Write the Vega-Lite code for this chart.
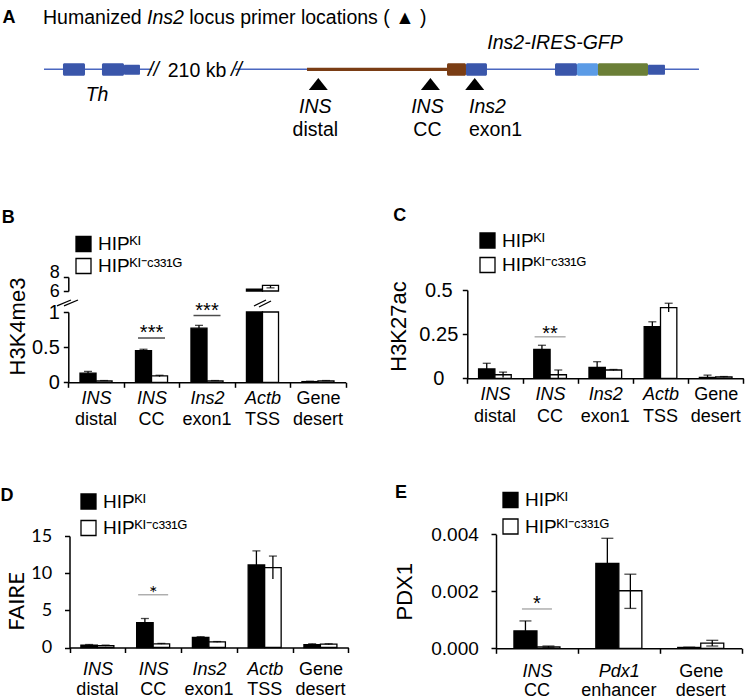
{
"$schema": "https://vega.github.io/schema/vega-lite/v6.json",
"width": 747, "height": 700, "autosize": "none", "padding": 0, "background": "white",
"config": {
  "view": {"stroke": null},
  "font": "Liberation Sans",
  "axis": {"grid": false, "labelFont": "Liberation Sans", "titleFont": "Liberation Sans", "labelColor": "black", "titleColor": "black", "domainColor": "black", "tickColor": "black", "domainWidth": 1.5, "tickWidth": 1.5, "tickSize": 5, "labelFontSize": 18, "titleFontSize": 22, "titleFontWeight": "normal", "labelOverlap": false},
  "text": {"font": "Liberation Sans", "color": "black"}
},
"datasets": {
  "locus": [
    {"part": "backbone", "start": 58.9, "end": 203.5},
    {"part": "backbone", "start": 314.6, "end": 935.7},
    {"part": "human INS region", "start": 411, "end": 598.4},
    {"part": "exon", "start": 84.3, "end": 113.8},
    {"part": "exon", "start": 136.5, "end": 166},
    {"part": "UTR", "start": 166, "end": 187.4},
    {"part": "human INS", "start": 598.4, "end": 623.8},
    {"part": "exon", "start": 623.8, "end": 651.9},
    {"part": "exon", "start": 743, "end": 772.4},
    {"part": "IRES", "start": 772.4, "end": 800.5},
    {"part": "GFP", "start": 800.5, "end": 867.5},
    {"part": "UTR", "start": 867.5, "end": 890.2}
  ],
  "primers": [
    {"pos": 426.1, "name1": "INS", "name2": "distal"},
    {"pos": 576.2, "name1": "INS", "name2": "CC"},
    {"pos": 635.5, "name1": "Ins2", "name2": "exon1"}
  ],
  "B": [
    {"cat": "INS distal", "geno": "KI", "value": 0.13, "lo": 0.13, "hi": 0.155},
    {"cat": "INS distal", "geno": "KI-C331G", "value": 0.02, "lo": 0.02, "hi": 0.025},
    {"cat": "INS CC", "geno": "KI", "value": 0.45, "lo": 0.45, "hi": 0.47},
    {"cat": "INS CC", "geno": "KI-C331G", "value": 0.09, "lo": 0.08, "hi": 0.1},
    {"cat": "Ins2 exon1", "geno": "KI", "value": 0.77, "lo": 0.77, "hi": 0.81},
    {"cat": "Ins2 exon1", "geno": "KI-C331G", "value": 0.02, "lo": 0.02, "hi": 0.025},
    {"cat": "Actb TSS", "geno": "KI", "value": 6.25, "lo": 6.25, "hi": 6.3},
    {"cat": "Actb TSS", "geno": "KI-C331G", "value": 6.8, "lo": 6.45, "hi": 6.8},
    {"cat": "Gene desert", "geno": "KI", "value": 0.01, "lo": 0.01, "hi": 0.015},
    {"cat": "Gene desert", "geno": "KI-C331G", "value": 0.02, "lo": 0.02, "hi": 0.025}
  ],
  "sigB": [
    {"cat": "INS CC", "y": 0.63, "label": "***"},
    {"cat": "Ins2 exon1", "y": 0.95, "label": "***"}
  ],
  "C": [
    {"cat": "INS distal", "geno": "KI", "value": 0.053, "lo": 0.053, "hi": 0.085},
    {"cat": "INS distal", "geno": "KI-C331G", "value": 0.02, "lo": 0.005, "hi": 0.035},
    {"cat": "INS CC", "geno": "KI", "value": 0.164, "lo": 0.164, "hi": 0.187},
    {"cat": "INS CC", "geno": "KI-C331G", "value": 0.02, "lo": 0.0, "hi": 0.047},
    {"cat": "Ins2 exon1", "geno": "KI", "value": 0.062, "lo": 0.062, "hi": 0.094},
    {"cat": "Ins2 exon1", "geno": "KI-C331G", "value": 0.047, "lo": 0.044, "hi": 0.05},
    {"cat": "Actb TSS", "geno": "KI", "value": 0.292, "lo": 0.292, "hi": 0.32},
    {"cat": "Actb TSS", "geno": "KI-C331G", "value": 0.4, "lo": 0.375, "hi": 0.425},
    {"cat": "Gene desert", "geno": "KI", "value": 0.005, "lo": 0.005, "hi": 0.018},
    {"cat": "Gene desert", "geno": "KI-C331G", "value": 0.008, "lo": 0.006, "hi": 0.01}
  ],
  "sigC": [{"cat": "INS CC", "y": 0.235, "label": "**"}],
  "D": [
    {"cat": "INS distal", "geno": "KI", "value": 0.3, "lo": 0.3, "hi": 0.4},
    {"cat": "INS distal", "geno": "KI-C331G", "value": 0.25, "lo": 0.18, "hi": 0.32},
    {"cat": "INS CC", "geno": "KI", "value": 3.35, "lo": 3.35, "hi": 3.9},
    {"cat": "INS CC", "geno": "KI-C331G", "value": 0.5, "lo": 0.45, "hi": 0.55},
    {"cat": "Ins2 exon1", "geno": "KI", "value": 1.35, "lo": 1.35, "hi": 1.45},
    {"cat": "Ins2 exon1", "geno": "KI-C331G", "value": 0.75, "lo": 0.7, "hi": 0.8},
    {"cat": "Actb TSS", "geno": "KI", "value": 11.1, "lo": 11.1, "hi": 13.0},
    {"cat": "Actb TSS", "geno": "KI-C331G", "value": 10.75, "lo": 9.2, "hi": 12.3},
    {"cat": "Gene desert", "geno": "KI", "value": 0.4, "lo": 0.4, "hi": 0.5},
    {"cat": "Gene desert", "geno": "KI-C331G", "value": 0.45, "lo": 0.4, "hi": 0.5}
  ],
  "sigD": [{"cat": "INS CC", "y": 7.1, "label": "*"}],
  "E": [
    {"cat": "INS CC", "geno": "KI", "value": 0.00061, "lo": 0.00061, "hi": 0.00096},
    {"cat": "INS CC", "geno": "KI-C331G", "value": 0.00005, "lo": 0.00002, "hi": 0.00008},
    {"cat": "Pdx1 enhancer", "geno": "KI", "value": 0.00298, "lo": 0.00298, "hi": 0.00386},
    {"cat": "Pdx1 enhancer", "geno": "KI-C331G", "value": 0.00202, "lo": 0.0014, "hi": 0.0026},
    {"cat": "Gene desert", "geno": "KI", "value": 0.00003, "lo": 0.00003, "hi": 0.00004},
    {"cat": "Gene desert", "geno": "KI-C331G", "value": 0.00018, "lo": 0.00008, "hi": 0.00028}
  ],
  "sigE": [{"cat": "INS CC", "y": 0.00138, "label": "*"}]
},
"resolve": {
  "scale": {"x": "independent", "y": "independent", "xOffset": "independent", "fill": "independent", "color": "independent"},
  "axis": {"x": "independent", "y": "independent"},
  "legend": {"fill": "independent", "color": "independent"}
},
"layer": [
  {
    "data": {"name": "locus"},
    "layer": [
      {"transform": [{"filter": "datum.part == 'backbone'"}],
       "mark": {"type": "rule", "color": "#4a67c0", "strokeWidth": 1.5},
       "encoding": {
         "x": {"field": "start", "type": "quantitative", "scale": {"domain": [0, 1000], "range": [0, 747], "nice": false, "zero": false}, "axis": null},
         "x2": {"field": "end"},
         "y": {"datum": 99, "type": "quantitative", "scale": {"domain": [0, 1000], "range": [0, 700], "nice": false, "zero": false}, "axis": null}
       }},
      {"transform": [{"filter": "datum.part == 'human INS region'"}],
       "mark": {"type": "rule", "color": "#7a3d14", "strokeWidth": 3.3},
       "encoding": {"x": {"field": "start", "type": "quantitative"}, "x2": {"field": "end"}, "y": {"datum": 99, "type": "quantitative"}}},
      {"transform": [{"filter": "datum.part != 'backbone' && datum.part != 'human INS region' && datum.part != 'UTR'"}],
       "mark": {"type": "rect", "cornerRadius": 1.5},
       "encoding": {"x": {"field": "start", "type": "quantitative"}, "x2": {"field": "end"}, "y": {"datum": 90.3, "type": "quantitative"}, "y2": {"datum": 108.1},
         "color": {"field": "part", "type": "nominal", "scale": {"domain": ["exon", "UTR", "human INS", "IRES", "GFP"], "range": ["#3a56aa", "#3a56aa", "#7a3d14", "#5b9be6", "#6b7f37"]}, "legend": null}}},
      {"transform": [{"filter": "datum.part == 'UTR'"}],
       "mark": {"type": "rect", "cornerRadius": 1},
       "encoding": {"x": {"field": "start", "type": "quantitative"}, "x2": {"field": "end"}, "y": {"datum": 92.4, "type": "quantitative"}, "y2": {"datum": 106.7},
         "color": {"field": "part", "type": "nominal"}}},
      {"data": {"name": "primers"},
       "mark": {"type": "point", "shape": "M-1,0.63L0,-0.63L1,0.63Z", "filled": true, "color": "black", "size": 361, "opacity": 1},
       "encoding": {"x": {"field": "pos", "type": "quantitative"}, "y": {"datum": 120, "type": "quantitative"}}},
      {"data": {"name": "primers"}, "transform": [{"filter": "datum.name2 != 'exon1'"}],
       "mark": {"type": "text", "fontStyle": "italic", "fontSize": 19.5, "dx": -3, "baseline": "middle"},
       "encoding": {"x": {"field": "pos", "type": "quantitative"}, "y": {"datum": 152.9, "type": "quantitative"}, "text": {"field": "name1"}}},
      {"data": {"name": "primers"}, "transform": [{"filter": "datum.name2 != 'exon1'"}],
       "mark": {"type": "text", "fontSize": 19.5, "dx": -3, "baseline": "middle"},
       "encoding": {"x": {"field": "pos", "type": "quantitative"}, "y": {"datum": 185.7, "type": "quantitative"}, "text": {"field": "name2"}}},
      {"data": {"name": "primers"}, "transform": [{"filter": "datum.name2 == 'exon1'"}],
       "mark": {"type": "text", "fontStyle": "italic", "fontSize": 19.5, "dx": -5.7, "align": "left", "baseline": "middle"},
       "encoding": {"x": {"field": "pos", "type": "quantitative"}, "y": {"datum": 152.9, "type": "quantitative"}, "text": {"field": "name1"}}},
      {"data": {"name": "primers"}, "transform": [{"filter": "datum.name2 == 'exon1'"}],
       "mark": {"type": "text", "fontSize": 19.5, "dx": -5.7, "align": "left", "baseline": "middle"},
       "encoding": {"x": {"field": "pos", "type": "quantitative"}, "y": {"datum": 185.7, "type": "quantitative"}, "text": {"field": "name2"}}},
      {"data": {"values": [{}]}, "mark": {"type": "text", "text": "A", "fontWeight": "bold", "fontSize": 18, "align": "left", "baseline": "middle"},
       "encoding": {"x": {"datum": 3.2, "type": "quantitative"}, "y": {"datum": 25.6, "type": "quantitative"}}},
      {"data": {"values": [{}]}, "mark": {"type": "text", "text": "Humanized", "fontSize": 19.5, "align": "left", "baseline": "middle"},
       "encoding": {"x": {"datum": 57.6, "type": "quantitative"}, "y": {"datum": 25.6, "type": "quantitative"}}},
      {"data": {"values": [{}]}, "mark": {"type": "text", "text": "Ins2", "fontStyle": "italic", "fontSize": 19.5, "align": "left", "baseline": "middle"},
       "encoding": {"x": {"datum": 196.8, "type": "quantitative"}, "y": {"datum": 25.6, "type": "quantitative"}}},
      {"data": {"values": [{}]}, "mark": {"type": "text", "text": "locus primer locations ( ▲ )", "fontSize": 19.5, "align": "left", "baseline": "middle"},
       "encoding": {"x": {"datum": 253.4, "type": "quantitative"}, "y": {"datum": 25.6, "type": "quantitative"}}},
      {"data": {"values": [{}]}, "mark": {"type": "text", "text": "Ins2-IRES-GFP", "fontStyle": "italic", "fontSize": 19.5, "baseline": "middle"},
       "encoding": {"x": {"datum": 743, "type": "quantitative"}, "y": {"datum": 61.9, "type": "quantitative"}}},
      {"data": {"values": [{}]}, "mark": {"type": "text", "text": "Th", "fontStyle": "italic", "fontSize": 19.5, "baseline": "middle"},
       "encoding": {"x": {"datum": 129.9, "type": "quantitative"}, "y": {"datum": 135.7, "type": "quantitative"}}},
      {"data": {"values": [{}]}, "mark": {"type": "text", "text": "210 kb", "fontSize": 19.5, "baseline": "middle"},
       "encoding": {"x": {"datum": 263.7, "type": "quantitative"}, "y": {"datum": 101.2, "type": "quantitative"}}},
      {"data": {"values": [{}]}, "mark": {"type": "text", "text": "//", "fontStyle": "italic", "fontSize": 19.5, "baseline": "middle"},
       "encoding": {"x": {"datum": 205.5, "type": "quantitative"}, "y": {"datum": 100, "type": "quantitative"}}},
      {"data": {"values": [{}]}, "mark": {"type": "text", "text": "//", "fontStyle": "italic", "fontSize": 19.5, "baseline": "middle"},
       "encoding": {"x": {"datum": 316.6, "type": "quantitative"}, "y": {"datum": 100, "type": "quantitative"}}},
      {"data": {"values": [{}]}, "mark": {"type": "text", "text": "B", "fontWeight": "bold", "fontSize": 18, "align": "left", "baseline": "middle"},
       "encoding": {"x": {"datum": 2.3, "type": "quantitative"}, "y": {"datum": 311.1, "type": "quantitative"}}},
      {"data": {"values": [{}]}, "mark": {"type": "text", "text": "C", "fontWeight": "bold", "fontSize": 18, "align": "left", "baseline": "middle"},
       "encoding": {"x": {"datum": 526.5, "type": "quantitative"}, "y": {"datum": 308.6, "type": "quantitative"}}},
      {"data": {"values": [{}]}, "mark": {"type": "text", "text": "D", "fontWeight": "bold", "fontSize": 18, "align": "left", "baseline": "middle"},
       "encoding": {"x": {"datum": 0.7, "type": "quantitative"}, "y": {"datum": 708.6, "type": "quantitative"}}},
      {"data": {"values": [{}]}, "mark": {"type": "text", "text": "E", "fontWeight": "bold", "fontSize": 18, "align": "left", "baseline": "middle"},
       "encoding": {"x": {"datum": 528.8, "type": "quantitative"}, "y": {"datum": 704.3, "type": "quantitative"}}},
      {"data": {"values": [{}]}, "mark": {"type": "rule", "color": "black", "strokeWidth": 1.3},
       "encoding": {"x": {"datum": 76.3, "type": "quantitative"}, "x2": {"datum": 95.0}, "y": {"datum": 437.1, "type": "quantitative"}, "y2": {"datum": 428.6}}},
      {"data": {"values": [{}]}, "mark": {"type": "rule", "color": "black", "strokeWidth": 1.3},
       "encoding": {"x": {"datum": 85.7, "type": "quantitative"}, "x2": {"datum": 104.4}, "y": {"datum": 437.1, "type": "quantitative"}, "y2": {"datum": 428.6}}},
      {"data": {"values": [{}]}, "mark": {"type": "rule", "color": "black", "strokeWidth": 1.3},
       "encoding": {"x": {"datum": 340.0, "type": "quantitative"}, "x2": {"datum": 356.1}, "y": {"datum": 437.1, "type": "quantitative"}, "y2": {"datum": 428.6}}},
      {"data": {"values": [{}]}, "mark": {"type": "rule", "color": "black", "strokeWidth": 1.3},
       "encoding": {"x": {"datum": 346.7, "type": "quantitative"}, "x2": {"datum": 362.8}, "y": {"datum": 438.6, "type": "quantitative"}, "y2": {"datum": 430.0}}}
    ]
  },
  {
    "data": {"name": "B"},
    "resolve": {"scale": {"y": "independent"}, "axis": {"x": "independent", "y": "independent"}},
    "layer": [
      {
        "layer": [
          {"mark": {"type": "bar", "stroke": "black", "strokeWidth": 1.3},
           "encoding": {
             "x": {"field": "cat", "type": "nominal", "sort": null,
               "scale": {"domain": ["INS distal", "INS CC", "Ins2 exon1", "Actb TSS", "Gene desert"], "range": [68.3, 345.7], "paddingInner": 0, "paddingOuter": 0},
               "axis": {"orient": "bottom", "offset": -317.7, "title": null, "labelAngle": 0, "tickBand": "extent", "tickSize": 5, "labelPadding": 2, "labelExpr": "isString(datum.value) ? split(datum.value, ' ')[0] : ''", "labelFontStyle": {"condition": {"test": "datum.value == 'Gene desert'", "value": "normal"}, "value": "italic"}}},
             "xOffset": {"field": "geno", "type": "nominal", "sort": null, "scale": {"domain": ["KI", "KI-C331G"], "paddingInner": 0, "paddingOuter": 0.73}},
             "y": {"field": "value", "type": "quantitative", "scale": {"domain": [0, 1], "range": [382.3, 312], "nice": false, "clamp": true},
               "axis": {"orient": "left", "offset": -68.3, "values": [0, 0.5, 1], "format": "~g", "title": "H3K4me3", "titleY": 326, "labelFontSize": 20, "labelPadding": 4, "titlePadding": 2}},
             "fill": {"field": "geno", "type": "nominal", "sort": null, "scale": {"domain": ["KI", "KI-C331G"], "range": ["#000000", "#ffffff"]},
               "legend": {"orient": "none", "legendX": 74, "legendY": 234.5, "title": null, "symbolType": "square", "symbolSize": 225, "symbolStrokeColor": "black", "symbolStrokeWidth": 1.3, "labelFontSize": 19, "labelFont": "Liberation Sans", "labelColor": "black", "labelOffset": 5, "rowPadding": 1, "padding": 0, "labelExpr": "datum.value == 'KI' ? 'HIPᴷᴵ' : 'HIPᴷᴵ⁻ᶜ³³¹ᴳ'"}}
           }},
          {"transform": [{"filter": "datum.hi <= 1"}],
           "mark": {"type": "rule", "color": "black", "strokeWidth": 1.3},
           "encoding": {"x": {"field": "cat", "type": "nominal", "sort": null}, "xOffset": {"field": "geno", "type": "nominal", "sort": null}, "y": {"field": "lo", "type": "quantitative"}, "y2": {"field": "hi"}}},
          {"transform": [{"filter": "datum.hi <= 1"}],
           "mark": {"type": "tick", "color": "black", "thickness": 1.3, "size": 8},
           "encoding": {"x": {"field": "cat", "type": "nominal", "sort": null}, "xOffset": {"field": "geno", "type": "nominal", "sort": null}, "y": {"field": "hi", "type": "quantitative"}}},
          {"data": {"name": "sigB"},
           "mark": {"type": "tick", "color": "black", "thickness": 1.5, "size": 27},
           "encoding": {"x": {"field": "cat", "type": "nominal"}, "y": {"field": "y", "type": "quantitative"}}},
          {"data": {"name": "sigB"},
           "mark": {"type": "text", "fontSize": 20, "baseline": "alphabetic", "dy": 1.2},
           "encoding": {"x": {"field": "cat", "type": "nominal"}, "y": {"field": "y", "type": "quantitative"}, "text": {"field": "label"}}}
        ]
      },
      {
        "transform": [{"filter": "datum.value > 1"}],
        "layer": [
          {"mark": {"type": "bar", "stroke": "black", "strokeWidth": 1.3},
           "encoding": {
             "x": {"field": "cat", "type": "nominal", "sort": null,
               "axis": {"orient": "bottom", "offset": -317.7, "title": null, "labelAngle": 0, "domain": false, "ticks": false, "tickSize": 0, "labelPadding": 28, "labelExpr": "split(datum.value, ' ')[1]"}},
             "xOffset": {"field": "geno", "type": "nominal", "sort": null},
             "y": {"field": "value", "type": "quantitative", "scale": {"domain": [6, 8], "range": [291, 277], "nice": false, "zero": false},
               "axis": {"orient": "left", "offset": -68.3, "values": [6, 8], "format": "~g", "title": null, "labelFontSize": 18, "labelPadding": 4, "labelOffset": {"condition": {"test": "datum.value == 8", "value": -5}, "value": 0}}},
             "y2": {"datum": 6},
             "fill": {"field": "geno", "type": "nominal", "sort": null}
           }},
          {"transform": [{"filter": "datum.geno == 'KI-C331G'"}],
           "mark": {"type": "rule", "color": "black", "strokeWidth": 1.3},
           "encoding": {"x": {"field": "cat", "type": "nominal", "sort": null}, "xOffset": {"field": "geno", "type": "nominal", "sort": null}, "y": {"field": "lo", "type": "quantitative"}, "y2": {"field": "hi"}}},
          {"transform": [{"filter": "datum.geno == 'KI-C331G'"}],
           "mark": {"type": "tick", "color": "black", "thickness": 1.3, "size": 8},
           "encoding": {"x": {"field": "cat", "type": "nominal", "sort": null}, "xOffset": {"field": "geno", "type": "nominal", "sort": null}, "y": {"field": "lo", "type": "quantitative"}}}
        ]
      }
    ]
  },
  {
    "data": {"name": "C"},
    "resolve": {"axis": {"x": "independent"}},
    "layer": [
      {
        "layer": [
          {"mark": {"type": "bar", "stroke": "black", "strokeWidth": 1.3},
           "encoding": {
             "x": {"field": "cat", "type": "nominal", "sort": null,
               "scale": {"domain": ["INS distal", "INS CC", "Ins2 exon1", "Actb TSS", "Gene desert"], "range": [467.3, 743.3], "paddingInner": 0, "paddingOuter": 0},
               "axis": {"orient": "bottom", "offset": -321.7, "title": null, "labelAngle": 0, "tickBand": "extent", "tickSize": 5, "labelPadding": 2, "labelExpr": "isString(datum.value) ? split(datum.value, ' ')[0] : ''", "labelFontStyle": {"condition": {"test": "datum.value == 'Gene desert'", "value": "normal"}, "value": "italic"}}},
             "xOffset": {"field": "geno", "type": "nominal", "sort": null, "scale": {"domain": ["KI", "KI-C331G"], "paddingInner": 0, "paddingOuter": 0.69}},
             "y": {"field": "value", "type": "quantitative", "scale": {"domain": [0, 0.5], "range": [378.3, 290], "nice": false},
               "axis": {"orient": "left", "offset": -467.3, "values": [0, 0.25, 0.5], "format": "~g", "title": "H3K27ac", "titleY": 326, "labelFontSize": 20, "labelAlign": "center", "labelPadding": 24, "titlePadding": 8}},
             "fill": {"field": "geno", "type": "nominal", "sort": null, "scale": {"domain": ["KI", "KI-C331G"], "range": ["#000000", "#ffffff"]},
               "legend": {"orient": "none", "legendX": 478, "legendY": 231, "title": null, "symbolType": "square", "symbolSize": 225, "symbolStrokeColor": "black", "symbolStrokeWidth": 1.3, "labelFontSize": 19, "labelFont": "Liberation Sans", "labelColor": "black", "labelOffset": 5, "rowPadding": 3.5, "padding": 0, "labelExpr": "datum.value == 'KI' ? 'HIPᴷᴵ' : 'HIPᴷᴵ⁻ᶜ³³¹ᴳ'"}}
           }},
          {"mark": {"type": "rule", "color": "black", "strokeWidth": 1.3},
           "encoding": {"x": {"field": "cat", "type": "nominal", "sort": null}, "xOffset": {"field": "geno", "type": "nominal", "sort": null}, "y": {"field": "lo", "type": "quantitative"}, "y2": {"field": "hi"}}},
          {"mark": {"type": "tick", "color": "black", "thickness": 1.3, "size": 8},
           "encoding": {"x": {"field": "cat", "type": "nominal", "sort": null}, "xOffset": {"field": "geno", "type": "nominal", "sort": null}, "y": {"field": "hi", "type": "quantitative"}}},
          {"data": {"name": "sigC"},
           "mark": {"type": "tick", "color": "#8c8c8c", "thickness": 1.5, "size": 31},
           "encoding": {"x": {"field": "cat", "type": "nominal"}, "y": {"field": "y", "type": "quantitative"}}},
          {"data": {"name": "sigC"},
           "mark": {"type": "text", "fontSize": 20, "baseline": "alphabetic", "dy": 3.5},
           "encoding": {"x": {"field": "cat", "type": "nominal"}, "y": {"field": "y", "type": "quantitative"}, "text": {"field": "label"}}}
        ]
      },
      {"mark": {"type": "point", "opacity": 0},
       "encoding": {"x": {"field": "cat", "type": "nominal", "sort": null,
         "axis": {"orient": "bottom", "offset": -321.7, "title": null, "labelAngle": 0, "domain": false, "ticks": false, "tickSize": 0, "labelPadding": 29.6, "labelExpr": "split(datum.value, ' ')[1]"}}}}
    ]
  },
  {
    "data": {"name": "D"},
    "resolve": {"axis": {"x": "independent"}},
    "layer": [
      {
        "layer": [
          {"mark": {"type": "bar", "stroke": "black", "strokeWidth": 1.3},
           "encoding": {
             "x": {"field": "cat", "type": "nominal", "sort": null,
               "scale": {"domain": ["INS distal", "INS CC", "Ins2 exon1", "Actb TSS", "Gene desert"], "range": [69.5, 348.3], "paddingInner": 0, "paddingOuter": 0},
               "axis": {"orient": "bottom", "offset": -52.5, "title": null, "labelAngle": 0, "tickBand": "extent", "tickSize": 5, "labelPadding": 8, "labelExpr": "isString(datum.value) ? split(datum.value, ' ')[0] : ''", "labelFontStyle": {"condition": {"test": "datum.value == 'Gene desert'", "value": "normal"}, "value": "italic"}}},
             "xOffset": {"field": "geno", "type": "nominal", "sort": null, "scale": {"domain": ["KI", "KI-C331G"], "paddingInner": 0, "paddingOuter": 0.69}},
             "y": {"field": "value", "type": "quantitative", "scale": {"domain": [0, 15], "range": [647.5, 536], "nice": false},
               "axis": {"orient": "left", "offset": -69.5, "values": [0, 5, 10, 15], "format": "~g", "title": "FAIRE", "titleY": 601, "labelFont": "Lato", "titleFont": "Lato", "labelFontSize": 18, "titleFontSize": 22, "labelPadding": 12.8, "titlePadding": 2}},
             "fill": {"field": "geno", "type": "nominal", "sort": null, "scale": {"domain": ["KI", "KI-C331G"], "range": ["#000000", "#ffffff"]},
               "legend": {"orient": "none", "legendX": 79, "legendY": 492, "title": null, "symbolType": "square", "symbolSize": 225, "symbolStrokeColor": "black", "symbolStrokeWidth": 1.3, "labelFontSize": 19, "labelFont": "Liberation Sans", "labelColor": "black", "labelOffset": 5, "rowPadding": 5.5, "padding": 0, "labelExpr": "datum.value == 'KI' ? 'HIPᴷᴵ' : 'HIPᴷᴵ⁻ᶜ³³¹ᴳ'"}}
           }},
          {"mark": {"type": "rule", "color": "black", "strokeWidth": 1.3},
           "encoding": {"x": {"field": "cat", "type": "nominal", "sort": null}, "xOffset": {"field": "geno", "type": "nominal", "sort": null}, "y": {"field": "lo", "type": "quantitative"}, "y2": {"field": "hi"}}},
          {"mark": {"type": "tick", "color": "black", "thickness": 1.3, "size": 8},
           "encoding": {"x": {"field": "cat", "type": "nominal", "sort": null}, "xOffset": {"field": "geno", "type": "nominal", "sort": null}, "y": {"field": "hi", "type": "quantitative"}}},
          {"data": {"name": "sigD"},
           "mark": {"type": "tick", "color": "#8c8c8c", "thickness": 1.5, "size": 30},
           "encoding": {"x": {"field": "cat", "type": "nominal"}, "y": {"field": "y", "type": "quantitative"}}},
          {"data": {"name": "sigD"},
           "mark": {"type": "text", "font": "Lato", "fontSize": 20, "baseline": "alphabetic", "dy": 4.8},
           "encoding": {"x": {"field": "cat", "type": "nominal"}, "y": {"field": "y", "type": "quantitative"}, "text": {"field": "label"}}}
        ]
      },
      {"mark": {"type": "point", "opacity": 0},
       "encoding": {"x": {"field": "cat", "type": "nominal", "sort": null,
         "axis": {"orient": "bottom", "offset": -52.5, "title": null, "labelAngle": 0, "domain": false, "ticks": false, "tickSize": 0, "labelPadding": 33, "labelExpr": "split(datum.value, ' ')[1]"}}}}
    ]
  },
  {
    "data": {"name": "E"},
    "resolve": {"axis": {"x": "independent"}},
    "layer": [
      {
        "layer": [
          {"mark": {"type": "bar", "stroke": "black", "strokeWidth": 1.3},
           "encoding": {
             "x": {"field": "cat", "type": "nominal", "sort": null,
               "scale": {"domain": ["INS CC", "Pdx1 enhancer", "Gene desert"], "range": [496, 741.7], "paddingInner": 0, "paddingOuter": 0},
               "axis": {"orient": "bottom", "offset": -51.7, "title": null, "labelAngle": 0, "tickBand": "extent", "tickSize": 5, "labelPadding": 9, "labelExpr": "isString(datum.value) ? split(datum.value, ' ')[0] : ''", "labelFontStyle": {"condition": {"test": "datum.value == 'Gene desert'", "value": "normal"}, "value": "italic"}}},
             "xOffset": {"field": "geno", "type": "nominal", "sort": null, "scale": {"domain": ["KI", "KI-C331G"], "paddingInner": 0, "paddingOuter": 0.78}},
             "y": {"field": "value", "type": "quantitative", "scale": {"domain": [0, 0.004], "range": [648.3, 534.3], "nice": false},
               "axis": {"orient": "left", "offset": -496, "values": [0, 0.002, 0.004], "format": ".3f", "title": "PDX1", "labelFontSize": 19, "labelPadding": 12.7, "titlePadding": 14}},
             "fill": {"field": "geno", "type": "nominal", "sort": null, "scale": {"domain": ["KI", "KI-C331G"], "range": ["#000000", "#ffffff"]},
               "legend": {"orient": "none", "legendX": 501, "legendY": 490.5, "title": null, "symbolType": "square", "symbolSize": 225, "symbolStrokeColor": "black", "symbolStrokeWidth": 1.3, "labelFontSize": 19, "labelFont": "Liberation Sans", "labelColor": "black", "labelOffset": 5, "rowPadding": 5.5, "padding": 0, "labelExpr": "datum.value == 'KI' ? 'HIPᴷᴵ' : 'HIPᴷᴵ⁻ᶜ³³¹ᴳ'"}}
           }},
          {"mark": {"type": "rule", "color": "black", "strokeWidth": 1.3},
           "encoding": {"x": {"field": "cat", "type": "nominal", "sort": null}, "xOffset": {"field": "geno", "type": "nominal", "sort": null}, "y": {"field": "lo", "type": "quantitative"}, "y2": {"field": "hi"}}},
          {"mark": {"type": "tick", "color": "black", "thickness": 1.3, "size": 12},
           "encoding": {"x": {"field": "cat", "type": "nominal", "sort": null}, "xOffset": {"field": "geno", "type": "nominal", "sort": null}, "y": {"field": "hi", "type": "quantitative"}}},
          {"transform": [{"filter": "datum.geno == 'KI-C331G'"}],
           "mark": {"type": "tick", "color": "black", "thickness": 1.3, "size": 12},
           "encoding": {"x": {"field": "cat", "type": "nominal", "sort": null}, "xOffset": {"field": "geno", "type": "nominal", "sort": null}, "y": {"field": "lo", "type": "quantitative"}}},
          {"data": {"name": "sigE"},
           "mark": {"type": "tick", "color": "#8c8c8c", "thickness": 1.5, "size": 30},
           "encoding": {"x": {"field": "cat", "type": "nominal"}, "y": {"field": "y", "type": "quantitative"}}},
          {"data": {"name": "sigE"},
           "mark": {"type": "text", "fontSize": 20, "baseline": "alphabetic", "dy": 0.8},
           "encoding": {"x": {"field": "cat", "type": "nominal"}, "y": {"field": "y", "type": "quantitative"}, "text": {"field": "label"}}}
        ]
      },
      {"mark": {"type": "point", "opacity": 0},
       "encoding": {"x": {"field": "cat", "type": "nominal", "sort": null,
         "axis": {"orient": "bottom", "offset": -51.7, "title": null, "labelAngle": 0, "domain": false, "ticks": false, "tickSize": 0, "labelPadding": 33, "labelExpr": "split(datum.value, ' ')[1]"}}}}
    ]
  }
]
}
